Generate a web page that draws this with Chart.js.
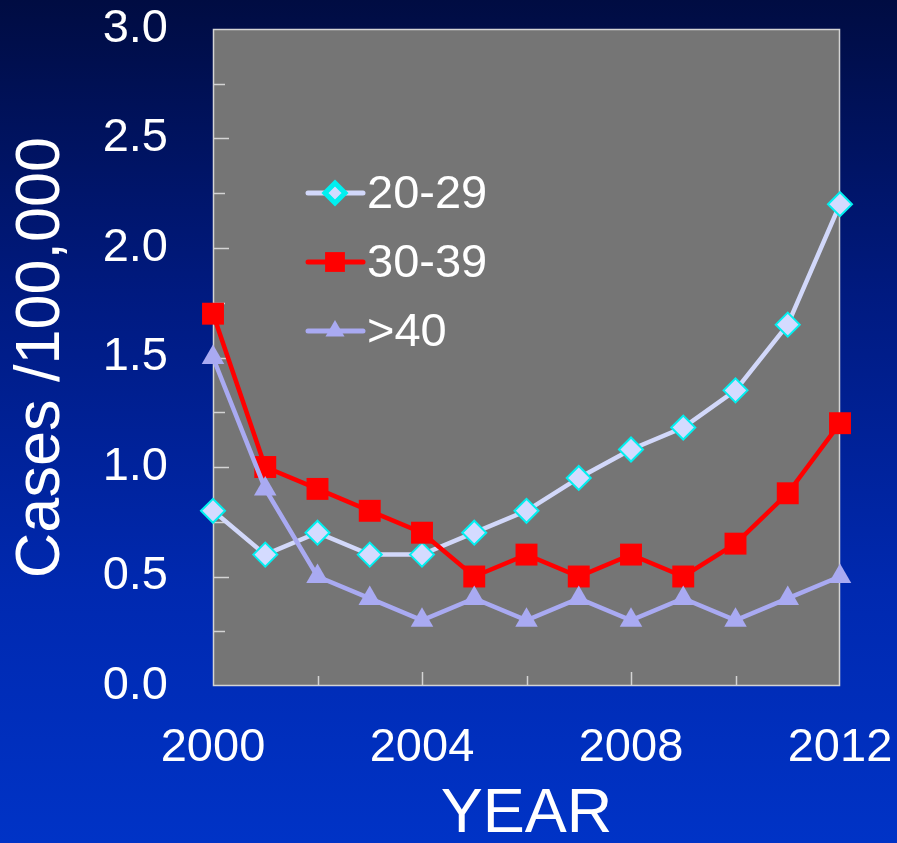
<!DOCTYPE html>
<html>
<head>
<meta charset="utf-8">
<title>Cases /100,000 by age group</title>
<script src="https://cdn.jsdelivr.net/npm/chart.js@4"></script>
<style>
  html, body { margin: 0; padding: 0; }
  body {
    width: 897px; height: 843px; overflow: hidden;
    background: linear-gradient(to bottom, #000c42 0%, #001a80 35%, #0029b0 70%, #0033c6 100%);
  }
</style>
</head>
<body>
<canvas id="casesChart" width="897" height="843"></canvas>
<script>
// Values
const years = [2000, 2001, 2002, 2003, 2004, 2005, 2006, 2007, 2008, 2009, 2010, 2011, 2012];
const age2029 = [0.8, 0.6, 0.7, 0.6, 0.6, 0.7, 0.8, 0.95, 1.08, 1.18, 1.35, 1.65, 2.2];
const age3039 = [1.7, 1.0, 0.9, 0.8, 0.7, 0.5, 0.6, 0.5, 0.6, 0.5, 0.65, 0.88, 1.2];
const age40 = [1.5, 0.9, 0.5, 0.4, 0.3, 0.4, 0.3, 0.4, 0.3, 0.4, 0.3, 0.4, 0.5];
const seriesNames = ['20-29', '30-39', '>40'];
const yearLabels = [2000, 2004, 2008, 2012];
const yLabelStep = 0.5;

const FONT = "'Liberation Sans', Arial, sans-serif";
const toPoints = vals => vals.map((v, i) => ({ x: years[i], y: v }));

// gray plot area, frame and inward tick marks
const plotFrame = {
  id: 'plotFrame',
  beforeDraw(chart) {
    const { ctx, chartArea: a } = chart;
    ctx.save();
    ctx.fillStyle = '#757575';
    ctx.fillRect(a.left, a.top, a.right - a.left, a.bottom - a.top);
    ctx.restore();
  },
  beforeDatasetsDraw(chart) {
    const { ctx, chartArea: a, scales } = chart;
    ctx.save();
    ctx.strokeStyle = '#d4d4d4';
    ctx.lineWidth = 1.5;
    ctx.beginPath();
    for (let v = 0.25; v < 3; v += 0.25) {
      const y = Math.round(scales.y.getPixelForValue(v)) + 0.5;
      const len = Math.abs(v / yLabelStep - Math.round(v / yLabelStep)) < 1e-6 ? 16 : 12;
      ctx.moveTo(a.left, y);
      ctx.lineTo(a.left + len, y);
    }
    for (let yr = years[0] + 2; yr < years[years.length - 1]; yr += 2) {
      const x = Math.round(scales.x.getPixelForValue(yr)) + 0.5;
      const len = yearLabels.includes(yr) ? 14 : 10;
      ctx.moveTo(x, a.bottom);
      ctx.lineTo(x, a.bottom - len);
    }
    ctx.stroke();
    ctx.strokeRect(a.left + 0.5, a.top + 0.5, a.right - a.left - 1, a.bottom - a.top - 1);
    ctx.restore();
  }
};

// legend drawn inside the plot area
const innerLegend = {
  id: 'innerLegend',
  afterDatasetsDraw(chart) {
    const { ctx, chartArea: a } = chart;
    const x0 = a.left + 95, x1 = a.left + 150, xm = a.left + 122;
    const sizes = [10, 14, 11];
    ctx.save();
    chart.data.datasets.forEach((ds, i) => {
      const y = a.top + 164 + i * 69;
      ctx.strokeStyle = ds.borderColor;
      ctx.lineWidth = 5;
      ctx.lineCap = 'round';
      ctx.beginPath();
      ctx.moveTo(x0, y);
      ctx.lineTo(x1, y);
      ctx.stroke();
      ctx.fillStyle = ds.pointBackgroundColor;
      ctx.strokeStyle = ds.pointBorderColor;
      Chart.helpers.drawPoint(ctx, {
        pointStyle: ds.pointStyle, radius: sizes[i], rotation: 0,
        borderWidth: ds.pointBorderWidth
      }, xm, y);
      ctx.fillStyle = '#ffffff';
      ctx.font = '47px ' + FONT;
      ctx.textAlign = 'left';
      ctx.textBaseline = 'middle';
      ctx.fillText(ds.label, x1 + 4, y + 2);
    });
    ctx.restore();
  }
};

const ctx = document.getElementById('casesChart').getContext('2d');
new Chart(ctx, {
  type: 'line',
  data: {
    datasets: [
      {
        label: seriesNames[0],
        data: toPoints(age2029),
        borderColor: '#d2d8fa',
        borderWidth: 4.5,
        pointStyle: 'rectRot',
        pointRadius: 12,
        pointBackgroundColor: '#d4dbff',
        pointBorderColor: '#00f0f0',
        pointBorderWidth: 2,
        order: 3
      },
      {
        label: seriesNames[1],
        data: toPoints(age3039),
        borderColor: '#ff0000',
        borderWidth: 4.5,
        pointStyle: 'rect',
        pointRadius: 15.5,
        pointBackgroundColor: '#ff0000',
        pointBorderColor: '#ff0000',
        pointBorderWidth: 0,
        order: 2
      },
      {
        label: seriesNames[2],
        data: toPoints(age40),
        borderColor: '#a9aaf2',
        borderWidth: 4.5,
        pointStyle: 'triangle',
        pointRadius: 13,
        pointBackgroundColor: '#a9aaf2',
        pointBorderColor: '#a9aaf2',
        pointBorderWidth: 0,
        order: 1
      }
    ]
  },
  options: {
    responsive: false,
    animation: false,
    events: [],
    clip: false,
    layout: { padding: { left: 0, top: 29, right: 57, bottom: 0 } },
    plugins: { legend: { display: false }, tooltip: { enabled: false } },
    elements: { line: { tension: 0 } },
    scales: {
      x: {
        type: 'linear',
        min: years[0],
        max: years[years.length - 1],
        grid: { display: false },
        border: { display: false },
        afterBuildTicks: s => { s.ticks = yearLabels.map(v => ({ value: v })); },
        afterFit: s => { s.height = 157; s.paddingLeft = 0; s.paddingRight = 0; },
        ticks: {
          color: '#ffffff',
          font: { family: FONT, size: 47 },
          padding: 26,
          maxRotation: 0,
          autoSkip: false,
          callback: v => String(v)
        },
        title: {
          display: true,
          text: 'YEAR',
          color: '#ffffff',
          font: { family: FONT, size: 63, lineHeight: 0.9 },
          padding: 0
        }
      },
      y: {
        min: 0,
        max: 3,
        grid: { display: false },
        border: { display: false },
        afterFit: s => { s.width = 213; s.paddingTop = 0; s.paddingBottom = 0; },
        ticks: {
          stepSize: yLabelStep,
          color: '#ffffff',
          font: { family: FONT, size: 47 },
          padding: 37,
          callback: v => v.toFixed(1)
        },
        title: {
          display: true,
          text: 'Cases /100,000',
          color: '#ffffff',
          font: { family: FONT, size: 63, lineHeight: 1.0 },
          padding: { top: 10, bottom: 0 }
        }
      }
    }
  },
  plugins: [plotFrame, innerLegend]
});
</script>
</body>
</html>
